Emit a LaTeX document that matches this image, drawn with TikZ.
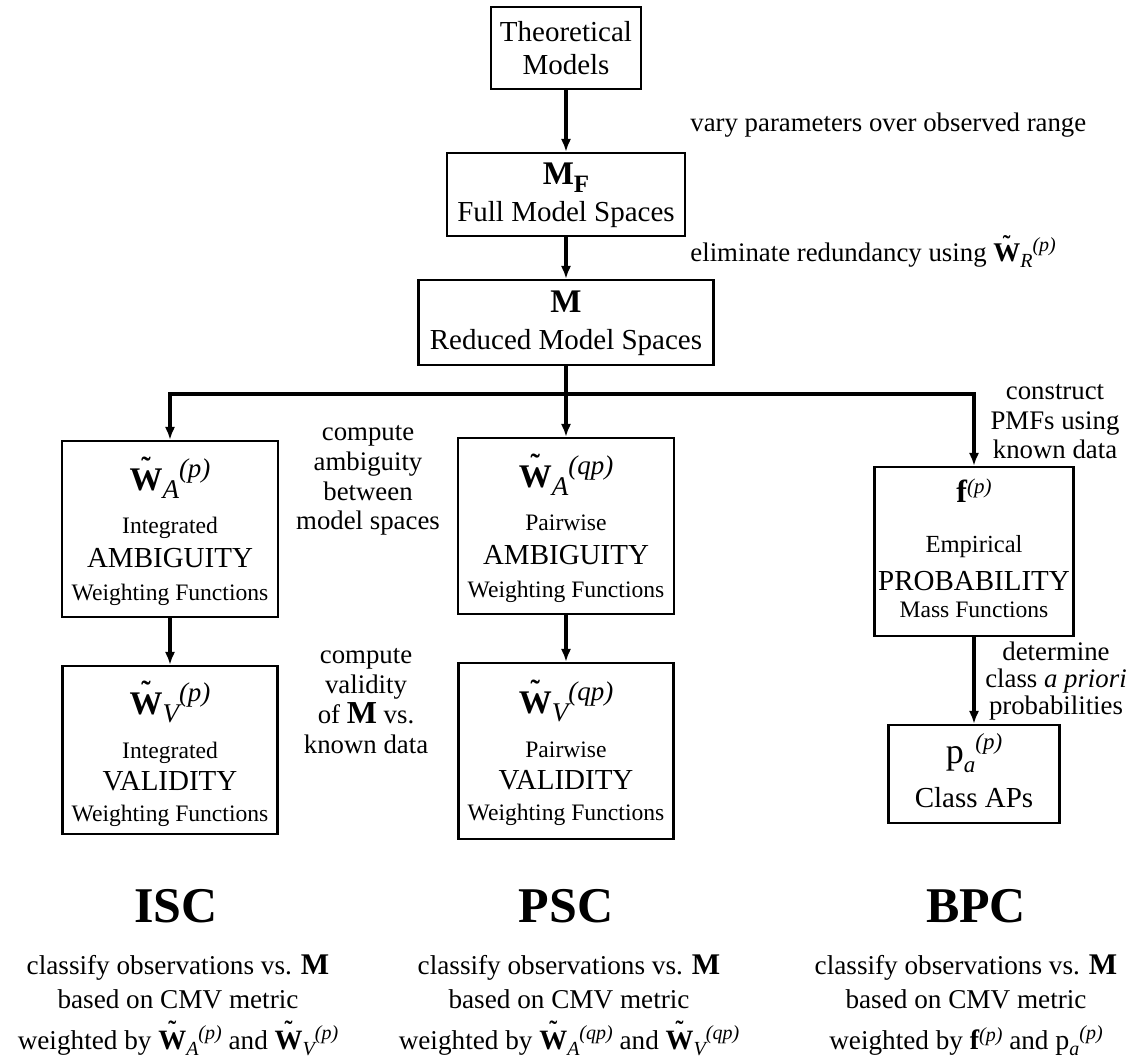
\documentclass[tikz,border=0pt]{standalone}
\usepackage{fontspec}
\setmainfont{Liberation Serif}
\usepackage{graphicx}
\usetikzlibrary{arrows.meta}

% font size in pt
\newcommand{\fsz}[1]{\fontsize{#1pt}{#1pt}\selectfont}
% height of the tilde over W
\newcommand{\tildeup}{0.4em}
% bold W with a tilde above it
\newcommand{\tW}{\setbox0=\hbox{W}\hbox{\rlap{\hbox to\wd0{\hss\raisebox{\tildeup}{\scalebox{0.85}{\char"02DC}}\hss}}\box0}}
% \Wsym{W size}{script size}{lower}{raise}{sub}{sup}
\newcommand{\Wsym}[6]{{\fsz{#1}\bfseries\tW}\raisebox{-#3pt}{\fsz{#2}\itshape #5}\raisebox{#4pt}{\fsz{#2}\itshape #6}}
% \Fsym{f size}{script size}{raise}
\newcommand{\Fsym}[3]{{\fsz{#1}\bfseries f}\raisebox{#3pt}{\fsz{#2}\itshape (p)}}
% \Psym{p size}{script size}{lower}{raise}
\newcommand{\Psym}[4]{{\fsz{#1}p}\raisebox{-#3pt}{\fsz{#2}\itshape a}\raisebox{#4pt}{\fsz{#2}\itshape (p)}}

\tikzset{
  bx/.style 2 args={draw, line width=1.2pt, inner sep=0pt,
    minimum width=#1*0.5pt, minimum height=#2*0.5pt},
  ln/.style={inner sep=0pt, anchor=base},
  lnw/.style={inner sep=0pt, anchor=base west},
  conn/.style={line width=1.6pt, -{Latex[length=6.5pt,width=5.2pt]}},
  bigtxt/.style={font=\fsz{14.5}},
  smalltxt/.style={font=\fsz{11.8}},
  labtxt/.style={font=\fsz{13.4}},
  btmtxt/.style={font=\fsz{13.6}},
  headtxt/.style={font=\fsz{25}\bfseries},
}

\begin{document}
\begin{tikzpicture}[x=0.5pt,y=-0.5pt]
\useasboundingbox (0,0) rectangle (1130,1059);

% ---------- boxes ----------
\node[bx={150}{82}]  (theo) at (566,48)    {};
\node[bx={238}{83}]  (mf)   at (566,194.5) {};
\node[bx={295}{85}]  (mr)   at (566,322.5) {};
\node[bx={216}{176}] (wap)  at (170,529)   {};
\node[bx={215}{168}] (wvp)  at (170,750)   {};
\node[bx={216}{176}] (waq)  at (566,526)   {};
\node[bx={215}{176}] (wvq)  at (566,751)   {};
\node[bx={199}{169}] (pmf)  at (974,551.5) {};
\node[bx={171}{98}]  (pap)  at (974,774)   {};

% ---------- box contents ----------
\node[ln,bigtxt] (theo1) at (566,42) {Theoretical};
\node[ln,bigtxt] (theo2) at (566,75) {Models};

\node[ln] (mf1) at (566,185) {{\fsz{16.5}\bfseries M}\raisebox{-4pt}{\fsz{12.5}\bfseries F}};
\node[ln,bigtxt] (mf2) at (566,222) {Full Model Spaces};

\node[ln] (mr1) at (566,313) {\fsz{16.5}\bfseries M};
\node[ln,bigtxt] (mr2) at (566,350) {Reduced Model Spaces};

\node[ln] (wap1) at (170,490) {\Wsym{16.5}{13.5}{4}{6.5}{A}{(p)}};
\node[ln,smalltxt] (wap2) at (170,533) {Integrated};
\node[ln,bigtxt] (wap3) at (170,567) {AMBIGUITY};
\node[ln,smalltxt] (wap4) at (170,600) {Weighting Functions};

\node[ln] (wvp1) at (170,714) {\Wsym{16.5}{13.5}{4}{6.5}{V}{(p)}};
\node[ln,smalltxt] (wvp2) at (170,758) {Integrated};
\node[ln,bigtxt] (wvp3) at (170,790) {VALIDITY};
\node[ln,smalltxt] (wvp4) at (170,821) {Weighting Functions};

\node[ln] (waq1) at (566,487) {\Wsym{16.5}{13.5}{4}{6.5}{A}{(qp)}};
\node[ln,smalltxt] (waq2) at (566,530) {Pairwise};
\node[ln,bigtxt] (waq3) at (566,564) {AMBIGUITY};
\node[ln,smalltxt] (waq4) at (566,597) {Weighting Functions};

\node[ln] (wvq1) at (566,713) {\Wsym{16.5}{13.5}{4}{6.5}{V}{(qp)}};
\node[ln,smalltxt] (wvq2) at (566,757) {Pairwise};
\node[ln,bigtxt] (wvq3) at (566,789) {VALIDITY};
\node[ln,smalltxt] (wvq4) at (566,820) {Weighting Functions};

\node[ln] (pmf1) at (974,502) {\Fsym{16}{10.5}{4.5}};
\node[ln,font=\fsz{12.3}] (pmf2) at (974,552) {Empirical};
\node[ln,bigtxt] (pmf3) at (974,590) {PROBABILITY};
\node[ln,smalltxt] (pmf4) at (974,617) {Mass Functions};

\node[ln] (pap1) at (974,763) {\Psym{18}{11.5}{4.5}{7}};
\node[ln,bigtxt] (pap2) at (974,807) {Class APs};

% ---------- connectors ----------
\draw[conn] (theo) -- (mf);
\draw[conn] (mf) -- (mr);
\draw[conn] (mr) -- (waq);
\coordinate (split) at (566,394);
\draw[conn] (split) -| (wap);
\draw[conn] (split) -| (pmf);
\draw[conn] (wap) -- (wvp);
\draw[conn] (waq) -- (wvq);
\draw[conn] (pmf) -- (pap);

% ---------- step labels ----------
\node[lnw,labtxt] (vary) at (690,132) {vary parameters over observed range};
\node[lnw,labtxt] (elim) at (690,262) {eliminate redundancy using \Wsym{13.5}{10}{3}{5}{R}{(p)}};

\node[ln,labtxt] (ca1) at (368,440) {compute};
\node[ln,labtxt] (ca2) at (368,470) {ambiguity};
\node[ln,labtxt] (ca3) at (368,500) {between};
\node[ln,labtxt] (ca4) at (368,529) {model spaces};

\node[ln,labtxt] (cv1) at (366,663) {compute};
\node[ln,labtxt] (cv2) at (366,693) {validity};
\node[ln,labtxt] (cv3) at (366,723) {of {\fsz{16}\bfseries M} vs.};
\node[ln,labtxt] (cv4) at (366,753) {known data};

\node[ln,labtxt] (cp1) at (1055,400) {construct};
\node[ln,labtxt] (cp2) at (1055,429) {PMFs using};
\node[ln,labtxt] (cp3) at (1055,458) {known data};

\node[ln,labtxt] (dt1) at (1056,660) {determine};
\node[ln,labtxt] (dt2) at (1056,687) {class \textit{a priori}};
\node[ln,labtxt] (dt3) at (1056,714) {probabilities};

% ---------- classifiers ----------
\node[ln,headtxt] (isc) at (176,922) {ISC};
\node[ln,headtxt] (psc) at (566,922) {PSC};
\node[ln,headtxt] (bpc) at (976,922) {BPC};

\node[ln,btmtxt] (isc1) at (178,974) {classify observations vs. {\fsz{15}\bfseries M}};
\node[ln,btmtxt] (isc2) at (178,1008) {based on CMV metric};
\node[ln,btmtxt] (isc3) at (178,1049) {weighted by \Wsym{14}{10}{3}{5}{A}{(p)} and \Wsym{14}{10}{3}{5}{V}{(p)}};

\node[ln,btmtxt] (psc1) at (569,974) {classify observations vs. {\fsz{15}\bfseries M}};
\node[ln,btmtxt] (psc2) at (569,1008) {based on CMV metric};
\node[ln,btmtxt] (psc3) at (569,1049) {weighted by \Wsym{14}{10}{3}{5}{A}{(qp)} and \Wsym{14}{10}{3}{5}{V}{(qp)}};

\node[ln,btmtxt] (bpc1) at (966,974) {classify observations vs. {\fsz{15}\bfseries M}};
\node[ln,btmtxt] (bpc2) at (966,1008) {based on CMV metric};
\node[ln,btmtxt] (bpc3) at (966,1049) {weighted by \Fsym{14}{10}{4} and \Psym{14}{10}{3}{5}};
\end{tikzpicture}
\end{document}
